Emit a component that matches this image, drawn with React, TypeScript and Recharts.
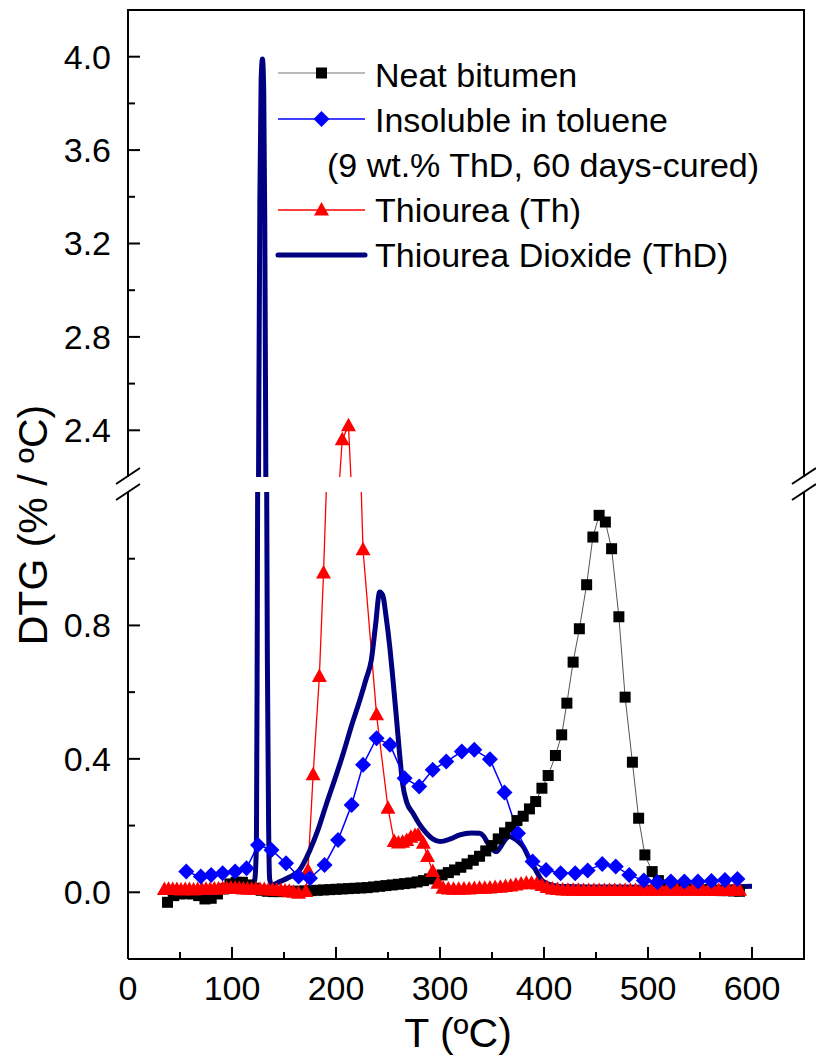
import React from 'react';
import { LineChart, Line, XAxis, YAxis, Legend } from 'recharts';

// Neat bitumen (black squares)
const bitumenT = [38, 44, 50, 56, 62, 68, 74, 80, 86, 92, 98, 104, 110, 116, 122, 128, 134, 140, 146, 152, 158, 164, 170, 176, 182, 188, 194, 200, 206, 212, 218, 224, 230, 236, 242, 248, 254, 260, 266, 272, 278, 284, 290, 296, 302, 308, 314, 320, 326, 332, 338, 344, 350, 356, 362, 368, 374, 380, 386, 392, 398, 404, 411, 417, 422, 428, 434, 441, 447, 453, 459, 465, 472, 478, 485, 491, 497, 504, 510, 516, 522, 528, 534, 540, 546, 552, 558, 564, 570, 576, 582, 588];
const bitumenDTG = [-0.03, -0.01, -0.005, -0.004, -0.005, -0.01, -0.02, -0.018, -0.005, 0.01, 0.025, 0.03, 0.03, 0.022, 0.012, 0.006, 0.003, 0.002, 0.002, 0.002, 0.003, 0.003, 0.004, 0.005, 0.006, 0.007, 0.008, 0.009, 0.01, 0.011, 0.012, 0.013, 0.014, 0.016, 0.018, 0.02, 0.022, 0.024, 0.026, 0.028, 0.031, 0.035, 0.04, 0.046, 0.052, 0.059, 0.067, 0.075, 0.085, 0.096, 0.108, 0.124, 0.14, 0.16, 0.178, 0.195, 0.215, 0.228, 0.25, 0.272, 0.312, 0.35, 0.41, 0.472, 0.567, 0.69, 0.79, 0.922, 1.065, 1.13, 1.11, 1.03, 0.826, 0.585, 0.39, 0.222, 0.112, 0.062, 0.035, 0.022, 0.016, 0.013, 0.011, 0.01, 0.009, 0.008, 0.007, 0.006, 0.005, 0.005, 0.004, 0.003];

// Insoluble in toluene (blue diamonds)
const insolT = [56, 70, 80, 91, 103, 114, 125, 138, 152, 164, 175, 189, 202, 215, 226, 239, 252, 266, 280, 293, 306, 321, 333, 348, 362, 375, 389, 402, 416, 430, 442, 456, 469, 482, 496, 509, 522, 535, 548, 561, 574, 586];
const insolDTG = [0.062, 0.047, 0.052, 0.057, 0.062, 0.072, 0.142, 0.127, 0.087, 0.047, 0.042, 0.082, 0.157, 0.262, 0.382, 0.462, 0.442, 0.342, 0.317, 0.367, 0.392, 0.422, 0.427, 0.399, 0.299, 0.177, 0.092, 0.067, 0.057, 0.057, 0.065, 0.085, 0.077, 0.052, 0.035, 0.03, 0.032, 0.032, 0.032, 0.034, 0.037, 0.04];

// Thiourea (red triangles)
const thT = [35, 39, 43, 47, 51, 55, 59, 63, 67, 71, 75, 79, 83, 87, 91, 95, 99, 103, 107, 111, 115, 119, 123, 127, 131, 135, 139, 143, 147, 151, 155, 159,
  164, 171, 173, 178, 184, 188, 196, 206, 212, 219, 226, 239, 250, 256, 260, 264, 268, 272, 276, 279, 284, 288, 293, 298,
  303, 308, 313, 318, 323, 328, 333, 338, 343, 348, 353, 358, 363, 368, 373, 378, 383, 388, 393, 398, 403, 408, 413, 418, 423, 428, 433, 438, 443, 448, 453, 458, 463, 468, 473, 478, 483, 488, 493, 498, 503, 508, 513, 518, 523, 528, 533, 538, 543, 548, 553, 558, 563, 568, 573, 578, 583, 588];
const thDTG = [0.008, 0.009, 0.008, 0.008, 0.007, 0.008, 0.008, 0.007, 0.008, 0.008, 0.009, 0.009, 0.01, 0.01, 0.011, 0.012, 0.013, 0.012, 0.011, 0.01, 0.01, 0.009, 0.009, 0.008, 0.008, 0.007, 0.007, 0.006, 0.005, 0.004, 0.003, 0.0,
  -0.003, 0.002, 0.065, 0.352, 0.647, 0.957, 1.7, 2.36, 2.42, 1.75, 1.027, 0.532, 0.252, 0.152, 0.148, 0.15, 0.155, 0.165, 0.17, 0.172, 0.147, 0.107, 0.062, 0.027,
  0.012, 0.01, 0.009, 0.009, 0.01, 0.01, 0.011, 0.012, 0.012, 0.013, 0.014, 0.015, 0.017, 0.019, 0.022, 0.025, 0.027, 0.027, 0.025, 0.02, 0.014, 0.01, 0.008, 0.007, 0.006, 0.006, 0.006, 0.005, 0.005, 0.005, 0.005, 0.005, 0.005, 0.005, 0.005, 0.005, 0.005, 0.005, 0.006, 0.006, 0.006, 0.006, 0.006, 0.006, 0.006, 0.006, 0.006, 0.006, 0.006, 0.006, 0.006, 0.006, 0.006, 0.006, 0.006, 0.006, 0.006, 0.006];

// Thiourea Dioxide (navy line)
const thdT = [38, 50, 69, 90, 95, 99, 102, 105, 110, 117, 120, 122, 123.5, 124.3, 125, 125.8, 126.8, 128, 129.3, 130.5, 131.5, 132.3, 133, 134, 135.2, 136.2, 138, 146, 155, 165, 175, 183, 191, 199, 207, 215, 223, 229, 234, 238, 242, 245, 248, 252, 255, 258, 261, 264, 268, 274, 280, 287, 293, 300, 310, 319, 330, 338, 342, 346, 350, 354, 358, 362, 367, 372, 376, 380, 386, 392, 397, 402, 410, 422, 450, 500, 550, 600];
const thdDTG = [-0.005, -0.002, 0.002, 0.003, 0.005, 0.015, 0.018, 0.01, 0.007, 0.01, 0.02, 0.04, 0.15, 0.8, 1.6, 2.5, 3.4, 3.9, 3.99, 3.85, 3.3, 2.5, 1.5, 0.7, 0.2, 0.04, 0.022, 0.032, 0.045, 0.067, 0.127, 0.19, 0.267, 0.34, 0.417, 0.5, 0.577, 0.64, 0.697, 0.8, 0.9, 0.89, 0.83, 0.727, 0.63, 0.527, 0.42, 0.327, 0.27, 0.237, 0.205, 0.177, 0.16, 0.152, 0.16, 0.172, 0.178, 0.177, 0.168, 0.147, 0.13, 0.122, 0.135, 0.155, 0.167, 0.16, 0.15, 0.137, 0.1, 0.067, 0.04, 0.027, 0.02, 0.017, 0.016, 0.015, 0.015, 0.018];

const xTicks = [0, 50, 100, 150, 200, 250, 300, 350, 400, 450, 500, 550, 600];
const lowerTicks = [0, 0.2, 0.4, 0.6, 0.8, 1.0];
const upperTicks = [2.4, 2.6, 2.8, 3.0, 3.2, 3.4, 3.6, 3.8, 4.0];

const FONT = '"Liberation Sans", Arial, Helvetica, sans-serif';

const toPoints = (t: number[], v: number[]) => t.map((x, i) => ({ x, y: v[i] }));

const bitumen = toPoints(bitumenT, bitumenDTG);
const insoluble = toPoints(insolT, insolDTG);
const thiourea = toPoints(thT, thDTG);
const thd = toPoints(thdT, thdDTG);

const squareDot = (p: any) => {
  const { cx, cy, index } = p;
  if (cx == null || cy == null) return <g key={`sq-${index}`} />;
  return <rect key={`sq-${index}`} x={cx - 5.5} y={cy - 5.5} width={11} height={11} fill="#000" />;
};

const diamondDot = (p: any) => {
  const { cx, cy, index } = p;
  if (cx == null || cy == null) return <g key={`dm-${index}`} />;
  return <path key={`dm-${index}`} d={`M${cx},${cy - 8}L${cx + 8},${cy}L${cx},${cy + 8}L${cx - 8},${cy}Z`} fill="#0000ff" />;
};

const triangleDot = (p: any) => {
  const { cx, cy, index } = p;
  if (cx == null || cy == null) return <g key={`tr-${index}`} />;
  return <path key={`tr-${index}`} d={`M${cx},${cy - 8}L${cx + 7.5},${cy + 5.5}L${cx - 7.5},${cy + 5.5}Z`} fill="#ff0000" />;
};

function YTick(props: any) {
  const { x, y, payload } = props;
  const v = payload.value as number;
  const major = Math.round(v * 10) % 4 === 0;
  return (
    <g>
      <line x1={x} x2={x + (major ? 12 : 7)} y1={y} y2={y} stroke="#000" strokeWidth={2} />
      {major && (
        <text x={x - 17} y={y} dy="0.35em" textAnchor="end" fontSize={34} fontFamily={FONT} fill="#000">
          {v.toFixed(1)}
        </text>
      )}
    </g>
  );
}

function XTick(props: any) {
  const { x, y, payload } = props;
  const v = payload.value as number;
  const major = v % 100 === 0;
  return (
    <g>
      <line x1={x} x2={x} y1={y} y2={y - (major ? 12 : 7)} stroke="#000" strokeWidth={2} />
      {major && (
        <text x={x} y={y + 41} textAnchor="middle" fontSize={34} fontFamily={FONT} fill="#000">
          {v}
        </text>
      )}
    </g>
  );
}

function LegendBox() {
  const textStyle = { fontSize: 34, fontFamily: FONT, fill: '#000' };
  return (
    <svg width={545} height={240}>
      <line x1={8} x2={95} y1={33} y2={33} stroke="#777" strokeWidth={1} />
      <rect x={46} y={27.5} width={11} height={11} fill="#000" />
      <text x={105} y={47} {...textStyle}>Neat bitumen</text>

      <line x1={8} x2={95} y1={79} y2={79} stroke="#0000ff" strokeWidth={1.5} />
      <path d="M51.5,71L59.5,79L51.5,87L43.5,79Z" fill="#0000ff" />
      <text x={105} y={92} {...textStyle}>Insoluble in toluene</text>
      <text x={57} y={137} {...textStyle}>(9 wt.% ThD, 60 days-cured)</text>

      <line x1={8} x2={95} y1={170} y2={170} stroke="#ff0000" strokeWidth={1.5} />
      <path d="M51.5,162L59,175.5L44,175.5Z" fill="#ff0000" />
      <text x={105} y={182} {...textStyle}>Thiourea (Th)</text>

      <line x1={8} x2={95} y1={215} y2={215} stroke="#000080" strokeWidth={5} strokeLinecap="round" />
      <text x={105} y={227} {...textStyle}>Thiourea Dioxide (ThD)</text>
    </svg>
  );
}

function renderSeries() {
  return [
    <Line key="bitumen" name="Neat bitumen" data={bitumen} dataKey="y" type="linear" stroke="#555" strokeWidth={1}
      dot={squareDot} activeDot={false} isAnimationActive={false} />,
    <Line key="th" name="Thiourea (Th)" data={thiourea} dataKey="y" type="linear" stroke="#ff0000" strokeWidth={1.3}
      dot={triangleDot} activeDot={false} isAnimationActive={false} />,
    <Line key="thd" name="Thiourea Dioxide (ThD)" data={thd} dataKey="y" type="monotone" stroke="#000080" strokeWidth={5}
      dot={false} activeDot={false} isAnimationActive={false} />,
    <Line key="insol" name="Insoluble in toluene" data={insoluble} dataKey="y" type="linear" stroke="#0000ff" strokeWidth={1.5}
      dot={diamondDot} activeDot={false} isAnimationActive={false} />,
  ];
}

export default function App() {
  return (
    <div style={{ position: 'absolute', left: 0, top: 0, width: 816, height: 1063, background: '#fff', fontFamily: FONT }}>
      <div style={{ position: 'absolute', left: 0, top: 0 }}>
        <LineChart width={816} height={477} margin={{ top: 10, right: 12, bottom: 0, left: 0 }}>
          <XAxis dataKey="x" type="number" domain={[0, 650]} allowDataOverflow hide />
          <YAxis type="number" domain={[2.2, 4.2]} allowDataOverflow ticks={upperTicks} interval={0} width={128}
            tickSize={0} tickMargin={0} tickLine={false} tick={(p: any) => <YTick {...p} />}
            axisLine={{ stroke: '#000', strokeWidth: 2 }} />
          {renderSeries()}
          <Legend content={() => <LegendBox />} layout="vertical" align="center" verticalAlign="middle"
            wrapperStyle={{ left: 270, top: 40, width: 545, height: 240 }} />
        </LineChart>
      </div>
      <div style={{ position: 'absolute', left: 0, top: 482 }}>
        <LineChart width={816} height={581} margin={{ top: 10, right: 12, bottom: 0, left: 0 }}>
          <XAxis dataKey="x" type="number" domain={[0, 650]} allowDataOverflow ticks={xTicks} interval={0} height={104}
            tickSize={0} tickMargin={0} tickLine={false} tick={(p: any) => <XTick {...p} />}
            axisLine={{ stroke: '#000', strokeWidth: 2 }}
            label={{ value: 'T (ºC)', position: 'insideBottom', offset: 16, dx: -8, style: { fontSize: 41, fontFamily: FONT, fill: '#000' } }} />
          <YAxis type="number" domain={[-0.2, 1.2]} allowDataOverflow ticks={lowerTicks} interval={0} width={128}
            tickSize={0} tickMargin={0} tickLine={false} tick={(p: any) => <YTick {...p} />}
            axisLine={{ stroke: '#000', strokeWidth: 2 }} />
          {renderSeries()}
        </LineChart>
      </div>
      <svg width={816} height={1063} style={{ position: 'absolute', left: 0, top: 0, pointerEvents: 'none' }}>
        {/* frame top and right */}
        <line x1={127} x2={805} y1={10} y2={10} stroke="#000" strokeWidth={2} />
        <line x1={804} x2={804} y1={9} y2={477} stroke="#000" strokeWidth={2} />
        <line x1={804} x2={804} y1={492} y2={960} stroke="#000" strokeWidth={2} />
        {/* axis break marks */}
        <line x1={116} x2={140} y1={484} y2={468} stroke="#000" strokeWidth={2} />
        <line x1={116} x2={140} y1={500} y2={484} stroke="#000" strokeWidth={2} />
        <line x1={792} x2={816} y1={484} y2={468} stroke="#000" strokeWidth={2} />
        <line x1={792} x2={816} y1={500} y2={484} stroke="#000" strokeWidth={2} />
        <text transform="translate(47,525) rotate(-90)" textAnchor="middle" fontSize={41} fontFamily={FONT} fill="#000">
          DTG (% / ºC)
        </text>
      </svg>
    </div>
  );
}
